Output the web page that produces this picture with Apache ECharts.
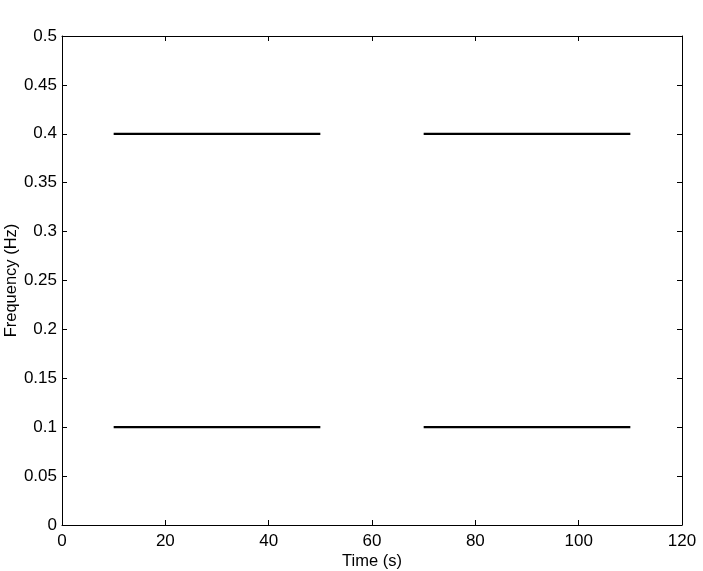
<!DOCTYPE html>
<html>
<head>
<meta charset="utf-8">
<script src="https://cdn.jsdelivr.net/npm/echarts@6/dist/echarts.min.js"></script>
<style>
  html, body { margin: 0; padding: 0; background: #fff; }
  #chart { width: 703px; height: 571px; }
</style>
</head>
<body>
<div id="chart"></div>
<script>
// segment endpoints (time in s)
const segStarts = [10, 70]
const segEnds = [50, 110]
// frequencies of the two tones (Hz)
const freqs = [0.4, 0.1]

const xTicks = [0, 20, 40, 60, 80, 100, 120]
const yTicks = [0, 0.05, 0.1, 0.15, 0.2, 0.25, 0.3, 0.35, 0.4, 0.45, 0.5]

const chart = echarts.init(document.getElementById('chart'))

const font = 'Liberation Sans, Arial, sans-serif'
const axisLine = { show: true, onZero: false, lineStyle: { color: '#000', width: 1 } }
const tickIn = { show: true, inside: true, length: 5, lineStyle: { color: '#000' } }

// build one series per frequency, gaps between segments as null
const series = freqs.map(f => {
  const data = []
  segStarts.forEach((s, i) => {
    data.push([s, f], [segEnds[i], f], [segEnds[i], null])
  })
  return {
    type: 'line',
    data,
    showSymbol: false,
    connectNulls: false,
    lineStyle: { color: '#000', width: 2.2 },
    animation: false
  }
})

chart.setOption({
  backgroundColor: '#fff',
  grid: { left: 62, right: 21, top: 36, bottom: 46, outerBoundsMode: 'none', containLabel: false },
  xAxis: [{
    type: 'value',
    min: xTicks[0],
    max: xTicks[xTicks.length - 1],
    interval: 20,
    name: 'Time (s)',
    nameLocation: 'middle',
    nameGap: 28,
    nameMoveOverlap: false,
    nameTextStyle: { color: '#000', fontSize: 16.5, fontFamily: font },
    axisLine,
    axisTick: tickIn,
    axisLabel: { color: '#000', fontSize: 17, fontFamily: font, margin: 8 },
    splitLine: { show: false }
  }, {
    type: 'value',
    position: 'top',
    min: xTicks[0],
    max: xTicks[xTicks.length - 1],
    interval: 20,
    axisLine,
    axisTick: tickIn,
    axisLabel: { show: false },
    splitLine: { show: false }
  }],
  yAxis: [{
    type: 'value',
    min: yTicks[0],
    max: yTicks[yTicks.length - 1],
    interval: 0.05,
    name: 'Frequency (Hz)',
    nameLocation: 'middle',
    nameGap: 42,
    nameMoveOverlap: false,
    nameTextStyle: { color: '#000', fontSize: 16.5, fontFamily: font },
    axisLine,
    axisTick: tickIn,
    axisLabel: {
      color: '#000', fontSize: 17, fontFamily: font, margin: 5,
      formatter: v => String(parseFloat(v.toFixed(2)))
    },
    splitLine: { show: false }
  }, {
    type: 'value',
    position: 'right',
    min: yTicks[0],
    max: yTicks[yTicks.length - 1],
    interval: 0.05,
    axisLine,
    axisTick: tickIn,
    axisLabel: { show: false },
    splitLine: { show: false }
  }],
  series
})
</script>
</body>
</html>
